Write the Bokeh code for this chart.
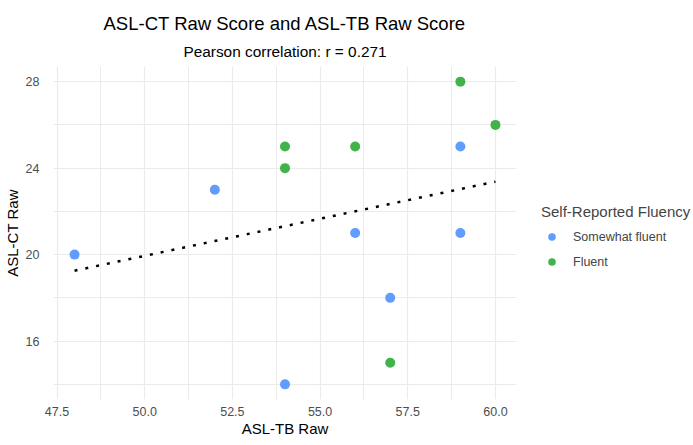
import numpy as np
from bokeh.plotting import figure
from bokeh.models import (Range1d, FixedTicker, Title, Legend, LegendItem,
                          CustomJSTickFormatter)
from bokeh.embed import file_html
from bokeh.resources import INLINE

# ---- data ----
somewhat_x = [48, 52, 54, 56, 57, 59, 59]
somewhat_y = [20, 23, 14, 21, 18, 25, 21]
fluent_x = [54, 54, 56, 57, 59, 60]
fluent_y = [25, 24, 25, 15, 28, 26]
groups = ["Somewhat fluent", "Fluent"]
colors = ["#619CFF", "#42B34B"]
x_ticks = [47.5, 50.0, 52.5, 55.0, 57.5, 60.0]
x_minor = [48.75, 51.25, 53.75, 56.25, 58.75]
y_ticks = [16, 20, 24, 28]
y_minor = [14, 18, 22, 26]
title_text = "ASL-CT Raw Score and ASL-TB Raw Score"
subtitle_text = "Pearson correlation: r = 0.271"

all_x = np.array(somewhat_x + fluent_x, dtype=float)
all_y = np.array(somewhat_y + fluent_y, dtype=float)
slope, intercept = np.polyfit(all_x, all_y, 1)
fit_x = [float(all_x.min()), float(all_x.max())]
fit_y = [float(intercept + slope * v) for v in fit_x]

xpad = 0.05 * float(all_x.max() - all_x.min())
ypad = 0.05 * float(all_y.max() - all_y.min())

FONT = "Liberation Sans"

p = figure(width=677, height=429, frame_width=463, frame_height=333,
           output_backend="svg", toolbar_location=None,
           x_range=Range1d(float(all_x.min()) - xpad, float(all_x.max()) + xpad),
           y_range=Range1d(float(all_y.min()) - ypad, float(all_y.max()) + ypad),
           min_border_left=44, min_border_right=170, min_border_top=10,
           min_border_bottom=10)
p.outline_line_color = None

for ax in (p.xaxis, p.yaxis):
    ax.axis_line_color = None
    ax.major_tick_line_color = None
    ax.minor_tick_line_color = None
    ax.major_label_text_color = "#4D4D4D"
    ax.major_label_text_font = FONT
    ax.major_label_text_font_size = "12.5px"
    ax.axis_label_text_font = FONT
    ax.axis_label_text_font_size = "15px"
    ax.axis_label_text_font_style = "normal"
    ax.axis_label_text_color = "black"

p.xaxis.ticker = FixedTicker(ticks=x_ticks, minor_ticks=x_minor)
p.yaxis.ticker = FixedTicker(ticks=y_ticks, minor_ticks=y_minor)
p.xaxis.formatter = CustomJSTickFormatter(code="return tick.toFixed(1);")
p.xaxis.axis_label = "ASL-TB Raw"
p.yaxis.axis_label = "ASL-CT Raw"
p.xaxis.major_label_standoff = 1
p.xaxis.axis_label_standoff = 1
p.yaxis.major_label_standoff = 8
p.yaxis.axis_label_standoff = 2

for g in (p.xgrid, p.ygrid):
    g.grid_line_color = "#EBEBEB"
    g.grid_line_width = 1.2
    g.minor_grid_line_color = "#EBEBEB"
    g.minor_grid_line_width = 1

p.line(fit_x, fit_y, line_color="black", line_width=2.5, line_dash="3 8")

r1 = p.scatter(somewhat_x, somewhat_y, size=10, fill_color=colors[0], line_color=None)
r2 = p.scatter(fluent_x, fluent_y, size=10, fill_color=colors[1], line_color=None)

legend = Legend(items=[LegendItem(label=groups[0], renderers=[r1]),
                       LegendItem(label=groups[1], renderers=[r2])],
                location=(25, 128),
                title="Self-Reported Fluency",
                title_text_font=FONT, title_text_font_size="15px",
                title_text_font_style="normal", title_standoff=7,
                label_text_font=FONT, label_text_font_size="12.5px",
                glyph_width=21, glyph_height=19, label_standoff=11,
                spacing=6, padding=0, margin=0,
                border_line_color=None, background_fill_alpha=0)
p.add_layout(legend, "right")

p.add_layout(Title(text=subtitle_text, align="center", standoff=13.5,
                   text_font=FONT, text_font_size="15.4px",
                   text_font_style="normal", text_color="black"), "above")
p.add_layout(Title(text=title_text, align="center", standoff=0,
                   text_font=FONT, text_font_size="18.5px",
                   text_font_style="normal", text_color="black"), "above")
p.add_layout(Title(text=" ", align="center", standoff=6,
                   text_font=FONT, text_font_size="2px",
                   text_color="white"), "above")

open("out.html", "w").write(file_html(p, INLINE))
